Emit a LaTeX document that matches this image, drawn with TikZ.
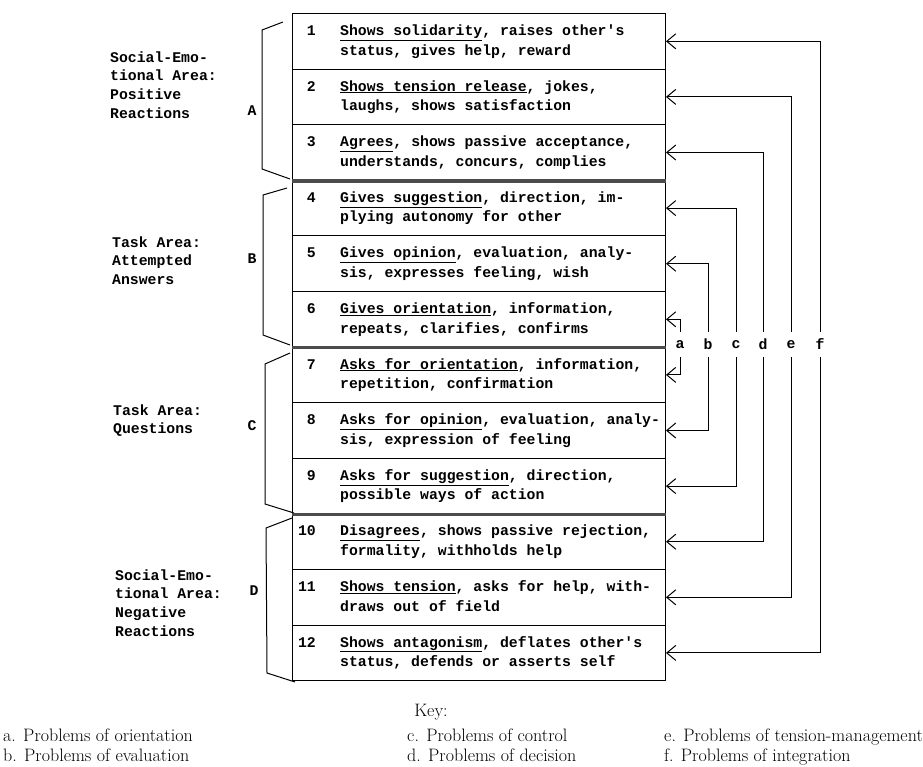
\documentclass[tikz,border=0pt]{standalone}
\usepackage{fontspec}
\usetikzlibrary{arrows.meta,calc}
\newfontfamily\tw{Liberation Mono}[Ligatures=TeXOff]
\newcommand\twsize{\tw\bfseries\fontsize{14.8}{18.7}\selectfont}
\newcommand\keysize{\fontsize{18}{21}\selectfont\addfontfeature{FakeBold=0.6}}

\begin{document}
\begin{tikzpicture}[x=1pt,y=-1pt,
  rowbox/.style={draw, line width=1pt, minimum width=373pt, minimum height=55.6pt,
                 inner sep=0pt, anchor=north west},
  typed/.style={font=\twsize, inner sep=0pt, anchor=base west},
  num/.style={font=\twsize, inner sep=0pt, anchor=base east},
  grp/.style={font=\twsize, inner sep=0pt},
  prob/.style={font=\twsize, inner sep=0pt, minimum height=25pt},
  link/.style={line width=1pt, -{Straight Barb[length=9pt,width=15pt]}},
  bracket/.style={line width=1pt, line join=round},
  sep/.style={line width=3.5pt, black!70},
  keyitem/.style={font=\keysize, inner sep=0pt, anchor=base west},
]
\useasboundingbox (0,0) rectangle (923,766);

% the twelve category rows
\foreach \i in {1,...,12}
  \node[rowbox] (r\i) at (292,{13+55.6*(\i-1)}) {};

% heavy rules between the four areas
\foreach \i in {3,6,9}
  \draw[sep] (r\i.south west) -- (r\i.south east);

% row texts: number, underlined head, rest of first line, second line
\foreach \n/\under/\rest/\nxt in {
  1/{Shows solidarity}/{, raises other's}/{status, gives help, reward},
  2/{Shows tension release}/{, jokes,}/{laughs, shows satisfaction},
  3/{Agrees}/{, shows passive acceptance,}/{understands, concurs, complies},
  4/{Gives suggestion}/{, direction, im-}/{plying autonomy for other},
  5/{Gives opinion}/{, evaluation, analy-}/{sis, expresses feeling, wish},
  6/{Gives orientation}/{, information,}/{repeats, clarifies, confirms},
  7/{Asks for orientation}/{, information,}/{repetition, confirmation},
  8/{Asks for opinion}/{, evaluation, analy-}/{sis, expression of feeling},
  9/{Asks for suggestion}/{, direction,}/{possible ways of action},
  10/{Disagrees}/{, shows passive rejection,}/{formality, withholds help},
  11/{Shows tension}/{, asks for help, with-}/{draws out of field},
  12/{Shows antagonism}/{, deflates other's}/{status, defends or asserts self}}
{
  \node[num] (n\n) at ($(r\n.north west)+(24,22.5)$) {\n};
  \node[typed] (t\n) at ($(r\n.north west)+(48,22.5)$) {\underline{\under}\rest};
  \node[typed] (s\n) at ($(r\n.north west)+(48,42)$) {\nxt};
}

% area brackets
\draw[bracket] (283,22) -- (262,30) -- (262,169) -- (290,179);
\draw[bracket] (287,188) -- (263,195) -- (263,335) -- (290,345);
\draw[bracket] (290,353) -- (265,364) -- (265,504) -- (294,513);
\draw[bracket] (292,518) -- (266,528) -- (267,673) -- (295,682);

% area letters
\node[grp] (gA) at (252,111) {A};
\node[grp] (gB) at (252,259) {B};
\node[grp] (gC) at (252,426) {C};
\node[grp] (gD) at (254,591) {D};

% area names
\foreach \t [count=\k] in {Social-Emo-,tional Area:,Positive,Reactions}
  \node[grp,anchor=base west] (la\k) at (110,{62+18.7*(\k-1)}) {\t};
\foreach \t [count=\k] in {Task Area:,Attempted,Answers}
  \node[grp,anchor=base west] (lb\k) at (112,{247+18.7*(\k-1)}) {\t};
\foreach \t [count=\k] in {Task Area:,Questions}
  \node[grp,anchor=base west] (lc\k) at (113,{415+18.7*(\k-1)}) {\t};
\foreach \t [count=\k] in {Social-Emo-,tional Area:,Negative,Reactions}
  \node[grp,anchor=base west] (ld\k) at (115,{580+18.7*(\k-1)}) {\t};

% problem letters and their paired links
\foreach \c/\x in {a/680,b/708,c/736,d/763,e/791,f/820}
  \node[prob] (p\c) at (\x,344.5) {\c};

\foreach \c/\up/\dn in {a/6/7,b/5/8,c/4/9,d/3/10,e/2/11,f/1/12}{
  \draw[link] (p\c.north) |- (r\up.east);
  \draw[link] (p\c.south) |- (r\dn.east);
}

% key
\node[font=\keysize,inner sep=0pt,anchor=base] (key) at (431,716) {Key:};
\node[keyitem] (ka) at (3,741) {a. Problems of orientation};
\node[keyitem] (kb) at (3,761) {b. Problems of evaluation};
\node[keyitem] (kc) at (407,741) {c. Problems of control};
\node[keyitem] (kd) at (407,761) {d. Problems of decision};
\node[keyitem] (ke) at (664,741) {e. Problems of tension-management};
\node[keyitem] (kf) at (664,761) {f. Problems of integration};
\end{tikzpicture}
\end{document}
